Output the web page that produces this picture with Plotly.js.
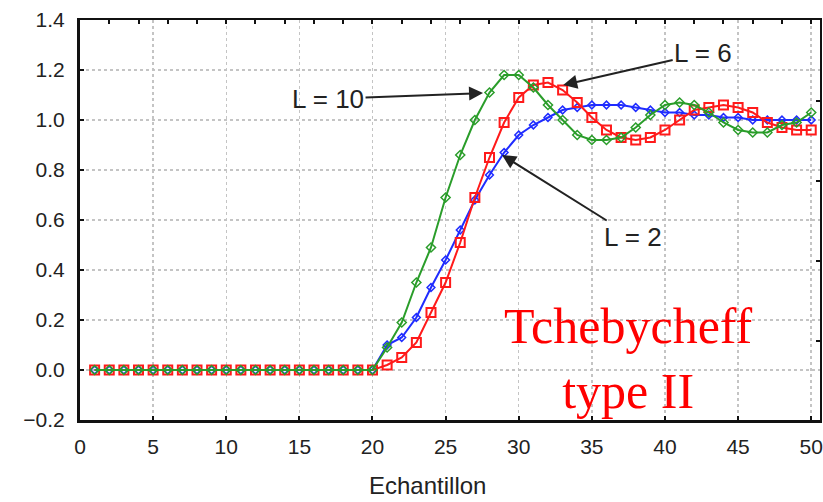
<!DOCTYPE html>
<html>
<head>
<meta charset="utf-8">
<script src="https://cdn.plot.ly/plotly-3.0.1.min.js"></script>
<style>html,body{margin:0;padding:0;background:#fff;}#chart{width:823px;height:502px;}</style>
</head>
<body>
<div id="chart"></div>
<script>
// Sample index (Echantillon)
const samples = Array.from({length: 50}, (_, i) => i + 1);

const zeros20 = [0,0,0,0,0,0,0,0,0,0,0,0,0,0,0,0,0,0,0,0];

// L = 2 (blue)
const seriesL2 = zeros20.concat([
  0.10, 0.13, 0.21, 0.33, 0.44, 0.56, 0.68, 0.78, 0.87, 0.94,
  0.98, 1.01, 1.04, 1.05, 1.06, 1.06, 1.06, 1.05, 1.04, 1.03,
  1.03, 1.02, 1.02, 1.01, 1.01, 1.00, 1.00, 1.00, 1.00, 1.00
]);

// L = 6 (red)
const seriesL6 = zeros20.concat([
  0.02, 0.05, 0.11, 0.23, 0.35, 0.51, 0.69, 0.85, 0.99, 1.09,
  1.14, 1.15, 1.12, 1.07, 1.01, 0.96, 0.93, 0.92, 0.93, 0.96,
  1.00, 1.04, 1.05, 1.06, 1.05, 1.03, 0.99, 0.97, 0.96, 0.96
]);

// L = 10 (green)
const seriesL10 = zeros20.concat([
  0.09, 0.19, 0.35, 0.49, 0.69, 0.86, 1.00, 1.11, 1.18, 1.18,
  1.13, 1.06, 1.00, 0.94, 0.92, 0.92, 0.93, 0.97, 1.02, 1.06,
  1.07, 1.06, 1.03, 0.99, 0.96, 0.95, 0.95, 0.98, 0.99, 1.03
]);

const seriesNames = ['L = 2', 'L = 6', 'L = 10'];
const xTitle = 'Echantillon';
const chartLabel = 'Tchebycheff<br>type II';

const tickFont = {family: 'Liberation Sans, Arial, sans-serif', size: 21, color: '#222'};

const traces = [
  {x: samples, y: seriesL2, name: seriesNames[0], mode: 'lines+markers',
   line: {color: '#1f2cff', width: 2},
   marker: {symbol: 'diamond-open', size: 6, color: '#1f2cff', line: {width: 1.5}}},
  {x: samples, y: seriesL6, name: seriesNames[1], mode: 'lines+markers',
   line: {color: '#ff1a1a', width: 2},
   marker: {symbol: 'square-open', size: 9, color: '#ff1a1a', line: {width: 2}}},
  {x: samples, y: seriesL10, name: seriesNames[2], mode: 'lines+markers',
   line: {color: '#2a9d2a', width: 2},
   marker: {symbol: 'diamond-open', size: 7, color: '#2a9d2a', line: {width: 1.5}}}
];

const annFont = {family: 'Liberation Sans, Arial, sans-serif', size: 26, color: '#222'};
const arrowCommon = {showarrow: true, arrowhead: 2, arrowsize: 1.4, arrowwidth: 2, arrowcolor: '#222', font: annFont, xref: 'x', yref: 'y'};

const layout = {
  width: 823, height: 502,
  margin: {l: 80, r: 3, t: 20, b: 82},
  paper_bgcolor: '#fff', plot_bgcolor: '#fff',
  showlegend: false,
  xaxis: {
    range: [0, 50.6], tick0: 0, dtick: 5, ticks: 'inside', ticklen: 4, tickwidth: 2, tickcolor: '#111',
    showline: true, linecolor: '#111', linewidth: 3, zeroline: false,
    showgrid: true, gridcolor: '#c4c4c4', griddash: 'dot', gridwidth: 1.5,
    tickfont: tickFont, ticklabelstandoff: 6
  },
  yaxis: {
    range: [-0.2, 1.4], tick0: 0, dtick: 0.2, tickformat: '.1f', ticks: 'inside', ticklen: 4, tickwidth: 2, tickcolor: '#111',
    showline: true, linecolor: '#111', linewidth: 3, zeroline: false,
    showgrid: true, gridcolor: '#c4c4c4', griddash: 'dot', gridwidth: 1.5,
    tickfont: tickFont, ticklabelstandoff: 8
  },
  xaxis2: {
    overlaying: 'x', side: 'top', range: [0, 50.6], tick0: 0, dtick: 2, ticks: 'inside', ticklen: 4, tickwidth: 2, tickcolor: '#111',
    showticklabels: false, showgrid: false, zeroline: false, showline: true, linecolor: '#111', linewidth: 2
  },
  yaxis2: {
    overlaying: 'y', side: 'right', range: [-0.2, 1.4], tick0: 0.116, dtick: 0.32, ticks: 'inside', ticklen: 4, tickwidth: 2, tickcolor: '#111',
    showticklabels: false, showgrid: false, zeroline: false, showline: true, linecolor: '#111', linewidth: 2
  },
  annotations: [
    Object.assign({}, arrowCommon, {x: 27.56, y: 1.108, ax: -155, ay: 6, text: seriesNames[2]}),
    Object.assign({}, arrowCommon, {x: 33.04, y: 1.14, ax: 140, ay: -32, text: seriesNames[1]}),
    Object.assign({}, arrowCommon, {x: 28.86, y: 0.86, ax: 131, ay: 82, text: seriesNames[0]}),
    {xref: 'x', yref: 'y', x: 37.48, y: 0.048, xanchor: 'center', yanchor: 'middle', showarrow: false,
     text: chartLabel, align: 'center',
     font: {family: 'Liberation Serif, Times New Roman, serif', size: 50, color: '#ff0000'}},
    {xref: 'paper', yref: 'paper', x: (427 - 80) / 740, y: -0.163, xanchor: 'center', yanchor: 'middle', showarrow: false,
     text: xTitle, font: {family: 'Liberation Sans, Arial, sans-serif', size: 24, color: '#222'}}
  ]
};

// invisible trace anchoring the mirror axes
traces.push({x: [0], y: [0], xaxis: 'x2', yaxis: 'y2', mode: 'markers', marker: {opacity: 0}, hoverinfo: 'skip', showlegend: false});

Plotly.newPlot('chart', traces, layout, {staticPlot: true, displayModeBar: false});
</script>
</body>
</html>
